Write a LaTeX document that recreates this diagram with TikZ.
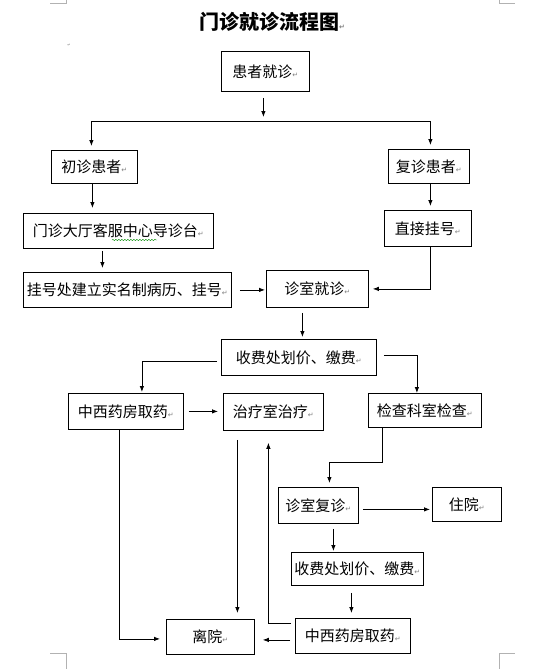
\documentclass[tikz,border=0pt]{standalone}
\usepackage{fontspec}
\newfontfamily\cjk{Noto Sans CJK SC}
\newfontfamily\dejavu{DejaVu Sans}
\usetikzlibrary{arrows.meta,decorations.pathmorphing}
\newcommand\parmk{{\dejavu\fontsize{7}{7}\selectfont\textcolor{gray}{↵}}}
\begin{document}
\begin{tikzpicture}[x=1pt,y=-1pt,
  box/.style={draw, line width=0.8pt, inner sep=0pt, anchor=north west, font=\cjk\fontsize{15}{15}\selectfont},
  arr/.style={line width=0.8pt, -{Latex[length=6pt,width=4.5pt]}},
  ln/.style={line width=0.8pt},
  crn/.style={line width=0.6pt, draw=gray!60}]
\useasboundingbox[fill=white] (0,0) rectangle (542,669);
% page corner marks
\draw[crn] (50,3) -- (66,3) -- (66,0);
\draw[crn] (499,0) -- (499,3) -- (515,3);
\draw[crn] (50,653) -- (66,653) -- (66,669);
\draw[crn] (499,669) -- (499,653) -- (515,653);
% title
\node[font=\cjk\bfseries\fontsize{20}{20}\selectfont] (title) at (272,22) {门诊就诊流程图\parmk};
\node[font=\dejavu\fontsize{4}{4}\selectfont, text=gray] (pm) at (69,45) {↵};
% boxes
\node[box, minimum width=88pt, minimum height=40pt] (n1) at (221,51) {患者就诊\parmk};
\node[box, minimum width=86pt, minimum height=33pt] (n2) at (51,150) {初诊患者\parmk};
\node[box, minimum width=81pt, minimum height=34pt] (n3) at (388,149) {复诊患者\parmk};
\node[box, minimum width=190pt, minimum height=35pt] (n4) at (23,213) {门诊大厅客服中心导诊台\parmk};
\node[box, minimum width=87pt, minimum height=36pt] (n5) at (384,210) {直接挂号\parmk};
\node[box, minimum width=208pt, minimum height=35pt] (n6) at (23,272) {挂号处建立实名制病历、挂号\parmk};
\node[box, minimum width=102pt, minimum height=37pt] (n7) at (266,270) {诊室就诊\parmk};
\node[box, minimum width=155pt, minimum height=36pt] (n8) at (221,339) {收费处划价、缴费\parmk};
\node[box, minimum width=115pt, minimum height=36pt] (n9) at (68,393) {中西药房取药\parmk};
\node[box, minimum width=100pt, minimum height=37pt] (n10) at (223,393) {治疗室治疗\parmk};
\node[box, minimum width=113pt, minimum height=34pt] (n11) at (368,393) {检查科室检查\parmk};
\node[box, minimum width=80pt, minimum height=36pt] (n12) at (278,487) {诊室复诊\parmk};
\node[box, minimum width=69pt, minimum height=34pt] (n13) at (432,487) {住院\parmk};
\node[box, minimum width=132pt, minimum height=33pt] (n14) at (291,552) {收费处划价、缴费\parmk};
\node[box, minimum width=115pt, minimum height=35pt] (n15) at (295,618) {中西药房取药\parmk};
\node[box, minimum width=88pt, minimum height=35pt] (n16) at (166,619) {离院\parmk};
% spell-check wavy underline
\draw[green!55!black, line width=0.4pt, decorate, decoration={snake, amplitude=0.7pt, segment length=3pt}] (112,240) -- (157,240);
% connectors
\coordinate (j1) at (263,121);
\draw[arr, shorten <=6pt, shorten >=4pt] ([xshift=-2pt]n1.south) -- ([xshift=-2pt]n1.south |- j1);
\draw[arr, shorten >=4pt] (j1) -| ([xshift=-3pt]n2.north);
\draw[arr, shorten >=4pt] (j1) -| ([xshift=1.5pt]n3.north);
\draw[arr, shorten >=5pt] ([xshift=-2pt]n2.south) -- ([xshift=-2pt]n2.south |- n4.north);
\draw[arr, shorten >=4pt] ([xshift=1.5pt]n3.south) -- ([xshift=1.5pt]n3.south |- n5.north);
\draw[arr, shorten <=2pt, shorten >=4pt] ([xshift=-16pt]n4.south) -- ([xshift=-16pt]n4.south |- n6.north);
\draw[arr, shorten <=8pt, shorten >=1pt] (n6.east) -- (n6.east -| n7.west);
\draw[arr, shorten >=4pt] ([xshift=2.5pt]n5.south) |- (n7.east);
\draw[arr, shorten <=5pt, shorten >=2pt] ([xshift=-15pt]n7.south) -- ([xshift=-15pt]n7.south |- n8.north);
\draw[arr, shorten <=4pt, shorten >=1pt] ([yshift=-4pt]n8.west) -| ([xshift=16pt]n9.north);
\draw[arr, shorten <=7pt] ([yshift=2pt]n8.east) -| ([xshift=-8pt]n11.north);
\draw[arr, shorten <=5pt, shorten >=5pt] (n9.east) -- (n9.east -| n10.west);
\draw[arr, shorten >=6pt] ([xshift=-7pt]n9.south) |- ([yshift=-2pt]n16.west);
\draw[arr, shorten <=9pt, shorten >=6pt] ([xshift=-36pt]n10.south) -- ([xshift=-36pt]n10.south |- n16.north);
\draw[arr, shorten >=12pt] ([xshift=-4pt,yshift=-5pt]n15.north west) -| ([xshift=-5pt]n10.south);
\draw[arr, shorten >=4pt] ([xshift=-43pt]n11.south) -- ++(0,35) -| ([xshift=11pt]n12.north);
\draw[arr, shorten <=4pt, shorten >=2pt] ([yshift=-4pt]n12.east) -- ([yshift=-4pt]n12.east -| n13.west);
\draw[arr, shorten <=5pt, shorten >=1pt] ([xshift=15pt]n12.south) -- ([xshift=15pt]n12.south |- n14.north);
\draw[arr, shorten <=7pt, shorten >=5pt] ([xshift=-6pt]n14.south) -- ([xshift=-6pt]n14.south |- n15.north);
\draw[arr, shorten <=5pt, shorten >=8pt] ([yshift=-4pt]n15.west) -- ([yshift=-4pt]n15.west -| n16.east);
\end{tikzpicture}
\end{document}
